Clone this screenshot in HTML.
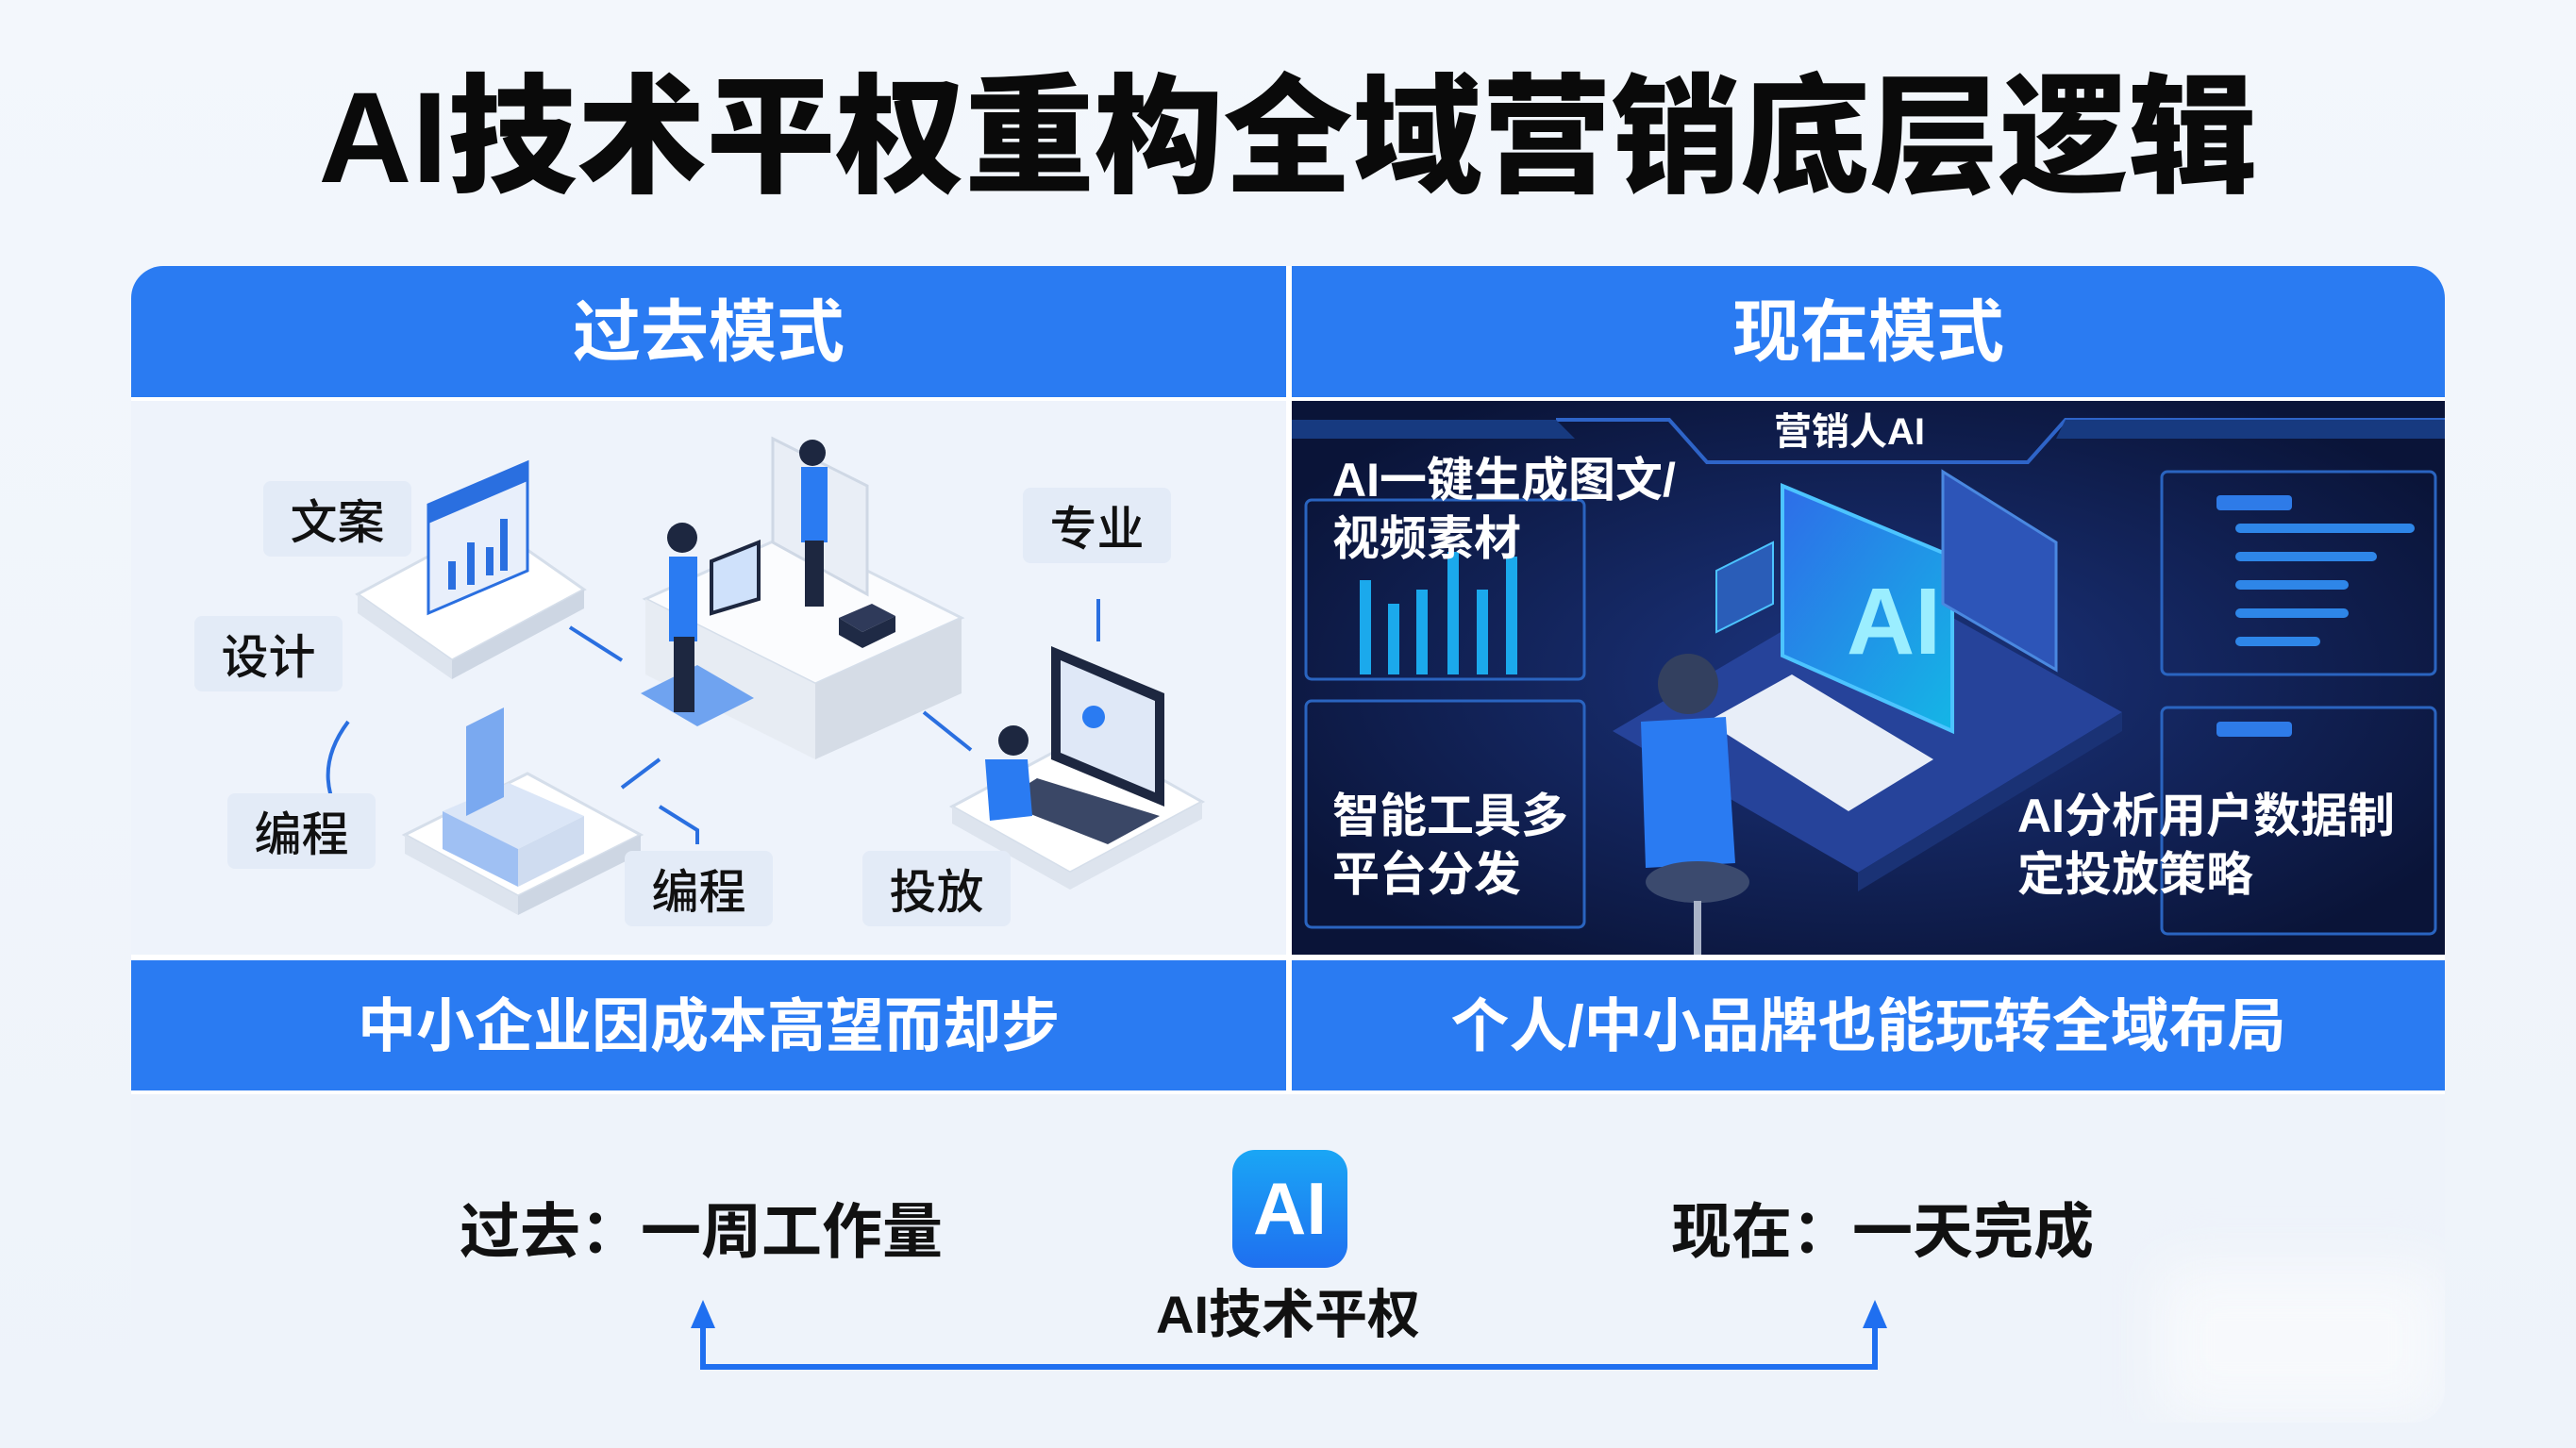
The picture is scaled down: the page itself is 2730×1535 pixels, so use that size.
<!DOCTYPE html>
<html><head><meta charset="utf-8"><style>
*{margin:0;padding:0;box-sizing:border-box}
body{width:2730px;height:1535px;background:linear-gradient(180deg,#f3f7fc,#eef3fa);position:relative;overflow:hidden;font-family:"Liberation Sans","Noto Sans CJK SC",sans-serif}
.a{position:absolute}
.t{white-space:nowrap;font-weight:bold}
.lbl{position:absolute;background:#e3ebf7;border-radius:8px;width:157px;height:80px;font-size:50px;color:#111;display:flex;align-items:center;justify-content:center;font-weight:500}
.w{color:#fff;font-weight:bold;white-space:nowrap;position:absolute;font-size:50px;line-height:62px}
</style></head><body>
<div class="a t" style="left:0;width:2730px;top:72px;text-align:center;font-size:137px;line-height:150px;color:#0a0a0a;font-weight:900">AI技术平权重构全域营销底层逻辑</div>

<div class="a" style="left:139px;top:282px;width:2452px;height:1226px;border-radius:34px;background:#eef3fa;overflow:hidden">
 <div class="a" style="left:0;top:0;width:1224px;height:139px;background:#2a7bf2"></div>
 <div class="a" style="left:1230px;top:0;width:1222px;height:139px;background:#2a7bf2"></div>
 <div class="a" style="left:0;top:736px;width:1224px;height:138px;background:#2a7bf2"></div>
 <div class="a" style="left:1230px;top:736px;width:1222px;height:138px;background:#2a7bf2"></div>
 <div class="a" style="left:1224px;top:0;width:6px;height:874px;background:#fff"></div>
 <div class="a" style="left:0;top:139px;width:2452px;height:4px;background:#fff"></div>
 <div class="a" style="left:0;top:730px;width:2452px;height:6px;background:#fff"></div>
 <div class="a" style="left:0;top:874px;width:2452px;height:4px;background:#fff"></div>
 <div class="a" style="left:2150px;top:1060px;width:300px;height:160px;background:#f7f9fc;filter:blur(30px)"></div>
</div>
<div class="a t" style="left:139px;width:1224px;top:310px;text-align:center;font-size:72px;line-height:86px;color:#fff">过去模式</div>
<div class="a t" style="left:1369px;width:1222px;top:310px;text-align:center;font-size:72px;line-height:86px;color:#fff">现在模式</div>
<div class="a t" style="left:139px;width:1224px;top:1053px;text-align:center;font-size:62px;line-height:72px;color:#fff">中小企业因成本高望而却步</div>
<div class="a t" style="left:1369px;width:1222px;top:1053px;text-align:center;font-size:62px;line-height:72px;color:#fff">个人/中小品牌也能玩转全域布局</div>

<svg class="a" style="left:139px;top:425px" width="1224" height="587">
 <rect width="1224" height="587" fill="#eef3fb"/>
 <g stroke="#2a6fe0" stroke-width="4" fill="none">
  <path d="M465 240 L520 275"/><path d="M230 340 C200 380 200 420 240 470"/><path d="M560 380 L520 410"/>
  <path d="M840 330 L890 370"/><path d="M1025 210 L1025 255"/><path d="M560 430 L600 455 L600 470"/>
 </g>
 <path d="M240 205 L380 130 L480 200 L340 275Z" fill="#fff" stroke="#d5deea" stroke-width="3"/>
 <path d="M240 205 L340 275 L340 295 L240 225Z" fill="#dde4ee"/><path d="M340 275 L480 200 L480 220 L340 295Z" fill="#cdd6e3"/>
 <path d="M315 110 L420 65 L420 180 L315 225Z" fill="#e8effb" stroke="#2a6fe0" stroke-width="3"/>
 <path d="M315 110 L420 65 L420 85 L315 130Z" fill="#2a6fe0"/>
 <g stroke="#2a6fe0" stroke-width="8"><path d="M340 200v-30M360 195v-45M380 185v-30M395 180v-55"/></g>
 <path d="M545 210 L700 140 L880 230 L725 300Z" fill="#fbfcfe" stroke="#d5deea" stroke-width="3"/>
 <path d="M545 210 L725 300 L725 380 L545 290Z" fill="#e7ecf3"/><path d="M725 300 L880 230 L880 310 L725 380Z" fill="#d5dce6"/>
 <path d="M680 40 L780 90 L780 205 L680 150Z" fill="#e9eef6" stroke="#cfd8e5" stroke-width="3"/>
 <path d="M540 310 L600 280 L660 315 L600 345Z" fill="#6fa3f0"/>
 <rect x="570" y="165" width="30" height="90" fill="#2a7bf2"/><rect x="575" y="250" width="22" height="80" fill="#1d2740"/>
 <circle cx="584" cy="145" r="16" fill="#1d2740"/>
 <path d="M615 170 L665 150 L665 210 L615 225Z" fill="#cfe1fb" stroke="#1d2740" stroke-width="4"/>
 <rect x="710" y="70" width="28" height="80" fill="#2a7bf2"/><rect x="714" y="148" width="20" height="70" fill="#1d2740"/>
 <circle cx="722" cy="55" r="14" fill="#1d2740"/>
 <path d="M750 230 L785 215 L810 228 L775 245Z" fill="#2f3a5a"/><path d="M750 230 L775 245 L775 262 L750 248Z M775 245 L810 228 L810 245 L775 262Z" fill="#1f2a45"/>
 <path d="M290 460 L420 395 L540 460 L410 525Z" fill="#fff" stroke="#d5deea" stroke-width="3"/>
 <path d="M290 460 L410 525 L410 545 L290 480Z" fill="#dde4ee"/><path d="M410 525 L540 460 L540 480 L410 545Z" fill="#cdd6e3"/>
 <path d="M330 435 L400 405 L480 440 L410 475Z" fill="#dbe6f7"/>
 <path d="M330 435 L410 475 L410 515 L330 475Z" fill="#9fc0f3"/><path d="M410 475 L480 440 L480 480 L410 515Z" fill="#cfdcf0"/>
 <path d="M355 345 L395 325 L395 420 L355 440Z" fill="#7aa9f0"/>
 <path d="M870 430 L1010 355 L1135 425 L995 500Z" fill="#fff" stroke="#d5deea" stroke-width="3"/>
 <path d="M870 430 L995 500 L995 518 L870 448Z M995 500 L1135 425 L1135 443 L995 518Z" fill="#dde4ee"/>
 <path d="M975 260 L1095 310 L1095 430 L975 380Z" fill="#1d2740"/><path d="M985 275 L1085 318 L1085 415 L985 373Z" fill="#dfe8f7"/>
 <path d="M960 400 L1090 440 L1035 470 L920 425Z" fill="#3a4766"/>
 <circle cx="1020" cy="335" r="12" fill="#2a7bf2"/>
 <circle cx="935" cy="360" r="16" fill="#1d2740"/><path d="M905 380 L950 380 L955 440 L910 445Z" fill="#2a7bf2"/>
</svg>
<div class="lbl" style="left:279px;top:510px">文案</div>
<div class="lbl" style="left:206px;top:653px">设计</div>
<div class="lbl" style="left:241px;top:841px">编程</div>
<div class="lbl" style="left:662px;top:902px">编程</div>
<div class="lbl" style="left:914px;top:902px">投放</div>
<div class="lbl" style="left:1084px;top:517px">专业</div>

<svg class="a" style="left:1369px;top:425px" width="1222" height="587">
 <defs><radialGradient id="g" cx="50%" cy="50%" r="60%"><stop offset="0" stop-color="#1c3580"/><stop offset="1" stop-color="#0a1438"/></radialGradient>
 <linearGradient id="s" x1="0" y1="0" x2="1" y2="1"><stop offset="0" stop-color="#2e6de8"/><stop offset="1" stop-color="#14b6e6"/></linearGradient></defs>
 <rect width="1222" height="587" fill="url(#g)"/>
 <path d="M280 20 L400 20 L440 65 L780 65 L820 20 L1222 20" stroke="#2e64c8" stroke-width="4" fill="none"/>
 <path d="M0 20 L280 20 L300 40 L0 40Z M820 20 L1222 20 L1222 40 L810 40Z" fill="#173a80"/>
 <g fill="none" stroke="#2a64c0" stroke-width="3">
  <rect x="15" y="105" width="295" height="190" rx="6"/><rect x="15" y="318" width="295" height="240" rx="6"/>
  <rect x="922" y="75" width="290" height="215" rx="6"/><rect x="922" y="325" width="290" height="240" rx="6"/>
 </g>
 <g fill="#1ba9ec"><rect x="72" y="190" width="12" height="100"/><rect x="102" y="215" width="12" height="75"/><rect x="132" y="200" width="12" height="90"/><rect x="165" y="160" width="12" height="130"/><rect x="196" y="200" width="12" height="90"/><rect x="227" y="165" width="12" height="125"/></g>
 <g fill="#2e7be8"><rect x="980" y="100" width="80" height="16" rx="4"/><rect x="980" y="340" width="80" height="16" rx="4"/></g>
 <g fill="#2e86e8"><rect x="1000" y="130" width="190" height="10" rx="5"/><rect x="1000" y="160" width="150" height="10" rx="5"/><rect x="1000" y="190" width="120" height="10" rx="5"/><rect x="1000" y="220" width="120" height="10" rx="5"/><rect x="1000" y="250" width="90" height="10" rx="5"/></g>
 <path d="M340 350 L620 185 L880 330 L600 500Z" fill="#26439a"/>
 <path d="M600 500 L880 330 L880 350 L600 520Z" fill="#1a3275"/>
 <path d="M520 90 L700 165 L700 350 L520 270Z" fill="url(#s)" stroke="#4cc4ff" stroke-width="4"/>
 <text x="588" y="268" font-family="Liberation Sans" font-weight="bold" font-size="100" fill="#9beeff">AI</text>
 <path d="M690 75 L810 150 L810 285 L690 215Z" fill="#2d55b8" stroke="#4a88e0" stroke-width="3"/>
 <path d="M450 180 L510 150 L510 215 L450 245Z" fill="#2a5db8" stroke="#4cc4ff" stroke-width="2"/>
 <path d="M440 340 L530 290 L680 380 L590 435Z" fill="#e8eef8"/>
 <circle cx="420" cy="300" r="32" fill="#33405f"/>
 <path d="M370 340 L460 335 L470 490 L375 495Z" fill="#2a7bf2"/>
 <ellipse cx="430" cy="510" rx="55" ry="22" fill="#3b4a6e"/>
 <path d="M430 530 L430 587" stroke="#aab4c8" stroke-width="8"/>
</svg>
<div class="a t" style="left:1880px;top:430px;font-size:40px;color:#fff;line-height:56px">营销人AI</div>
<div class="w" style="left:1412px;top:478px">AI一键生成图文/</div>
<div class="w" style="left:1412px;top:540px">视频素材</div>
<div class="w" style="left:1412px;top:834px">智能工具多</div>
<div class="w" style="left:1412px;top:896px">平台分发</div>
<div class="w" style="left:2138px;top:834px">AI分析用户数据制</div>
<div class="w" style="left:2138px;top:896px">定投放策略</div>

<div class="a t" style="left:487px;top:1268px;font-size:64px;line-height:76px;color:#111">过去：一周工作量</div>
<div class="a t" style="left:1771px;top:1268px;font-size:64px;line-height:76px;color:#111">现在：一天完成</div>
<div class="a" style="left:1306px;top:1219px;width:122px;height:125px;border-radius:24px;background:linear-gradient(180deg,#1aa6f5,#1f6ff0);color:#fff;font-weight:bold;font-size:78px;line-height:125px;text-align:center">AI</div>
<div class="a t" style="left:1165px;width:400px;top:1361px;text-align:center;font-size:56px;line-height:66px;color:#111">AI技术平权</div>
<svg class="a" style="left:0;top:0" width="2730" height="1535">
 <path d="M745 1400 L745 1449 L1987 1449 L1987 1400" stroke="#1f6ff0" stroke-width="6" fill="none"/>
 <path d="M745 1378 L732 1408 L758 1408Z M1987 1378 L1974 1408 L2000 1408Z" fill="#1f6ff0"/>
</svg>
</body></html>
